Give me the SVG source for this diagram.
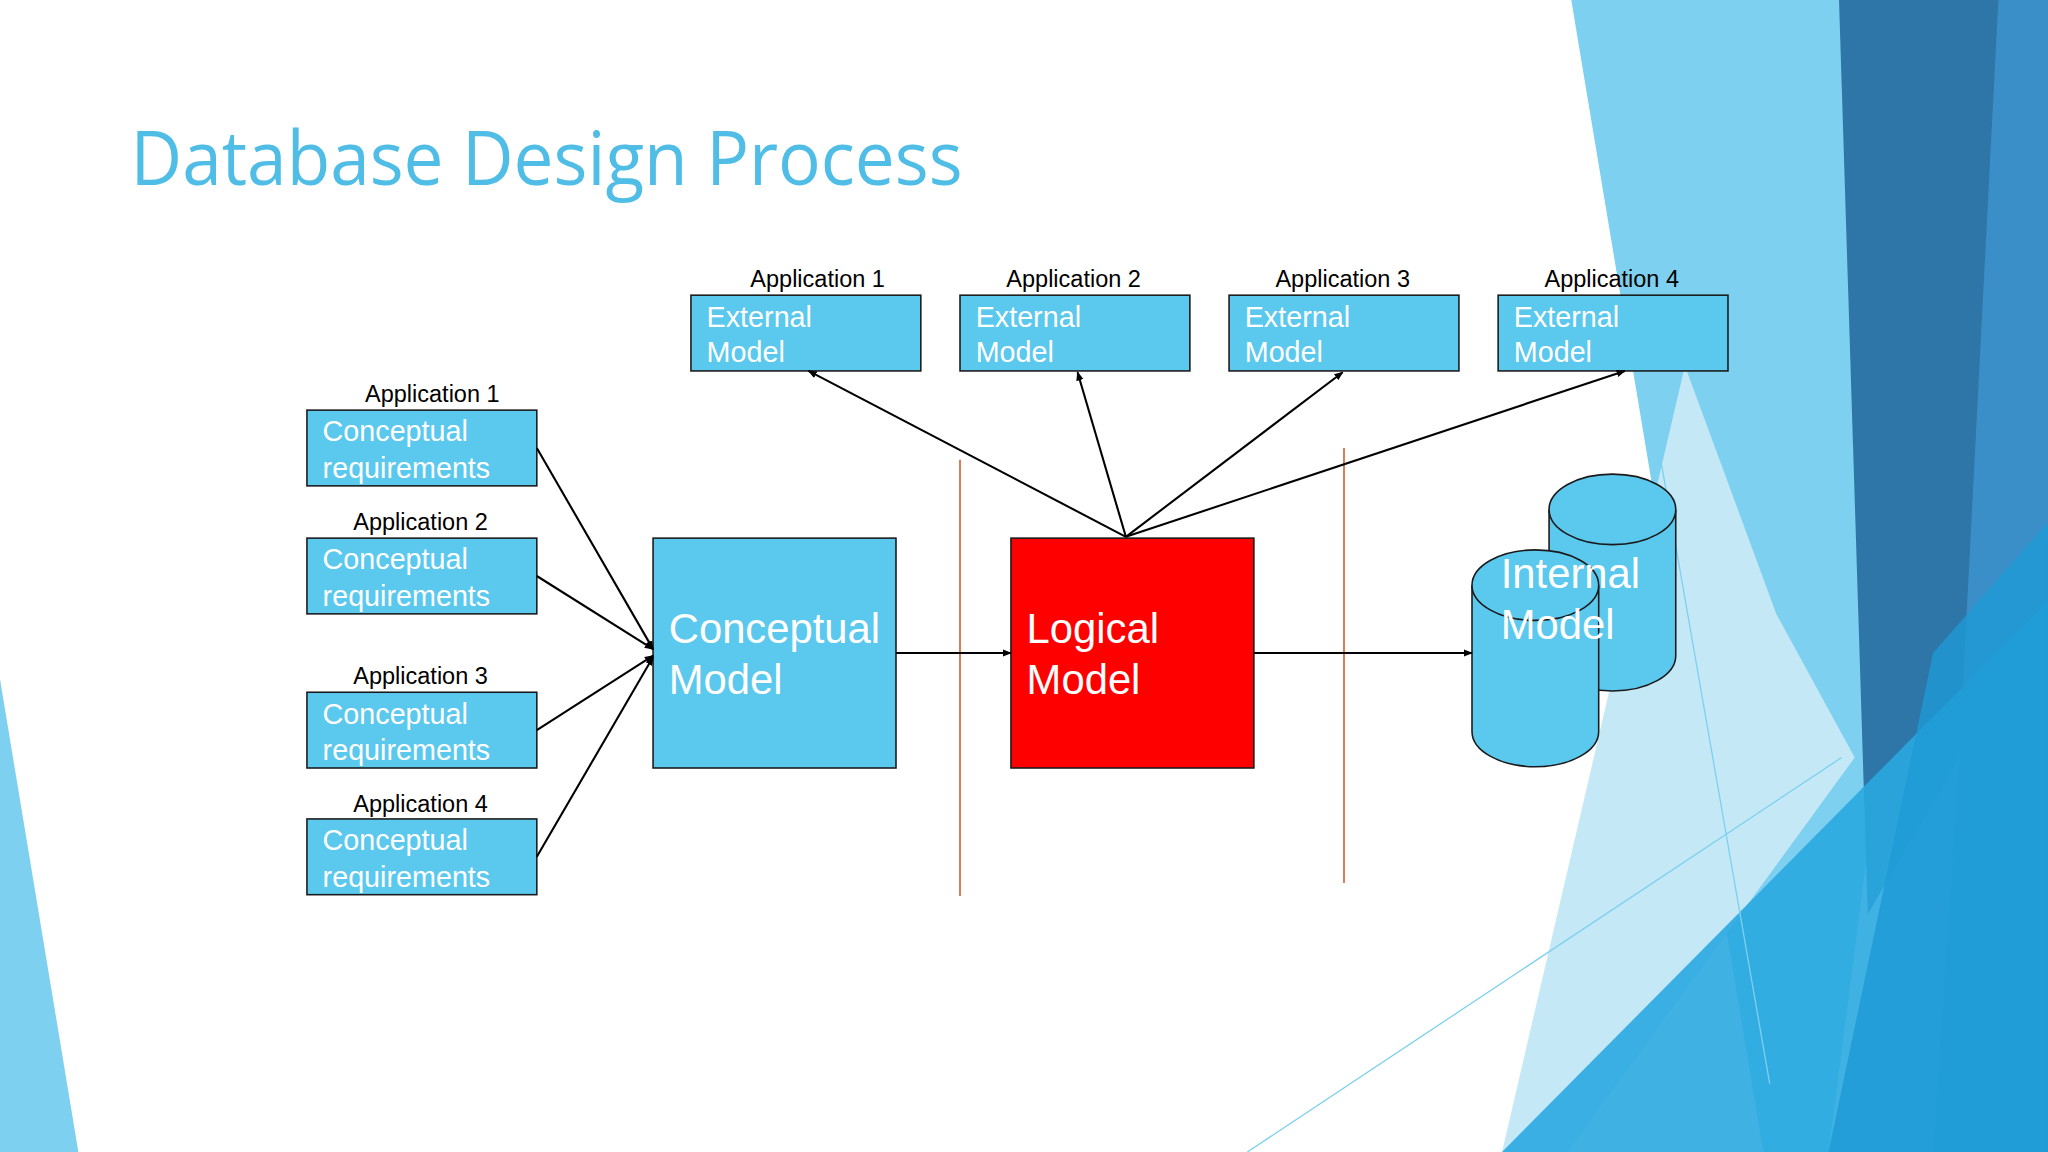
<svg xmlns="http://www.w3.org/2000/svg" width="2048" height="1152" viewBox="0 0 2048 1152">
<defs>
<style>
.box{fill:#5bc8ee;stroke:#1a1a1a;stroke-width:1.2}
.lbl{font-family:"Liberation Sans",Arial,sans-serif;font-size:18px;fill:#000}
.wt{font-family:"Liberation Sans",Arial,sans-serif;font-size:22px;fill:#fff}
.big{font-family:"Liberation Sans",Arial,sans-serif;font-size:32px;fill:#fff}
.con{stroke:#000;stroke-width:1.6;fill:none;marker-end:url(#ah)}
.div{stroke:#d9643a;stroke-width:1.3}
</style>
<marker id="ah" viewBox="0 0 10 10" refX="9" refY="5" markerWidth="7" markerHeight="7" orient="auto-start-reverse" markerUnits="userSpaceOnUse"><path d="M0,1 L10,5 L0,9 z" fill="#000"/></marker>
</defs>
<rect width="2048" height="1152" fill="#fff"/>
<g transform="scale(1.30612)">
<g id="background">
<polygon points="1203,0 1410,0 1460,420 1400,882 1350,882" fill="#7dd0ef"/>
<polygon points="1290,280 1360,470 1420,580 1200,882 1150,882" fill="#c5e8f7"/>
<polygon points="1408,0 1540,0 1500,580 1430,700" fill="#2e75a8"/>
<polygon points="1530,0 1568,0 1568,882 1480,882 1500,580" fill="#3a8fc8"/>
<polygon points="1150,882 1568,460 1568,882" fill="#2aa8e0" opacity="0.9"/>
<polygon points="1400,882 1480,500 1568,400 1568,882" fill="#1e9ad4" opacity="0.8"/>
<polygon points="0,520 60,882 0,882" fill="#7dd0ef"/>
<line x1="1210" y1="0" x2="1355" y2="830" stroke="#7dd0ef" stroke-width="1"/>
<line x1="955" y1="882" x2="1410" y2="580" stroke="#7dd0ef" stroke-width="1"/>
</g>
<text id="title" x="100" y="142" font-family="Open Sans, DejaVu Sans, sans-serif" font-size="58" fill="#4fbde6" textLength="637" lengthAdjust="spacingAndGlyphs">Database Design Process</text>
<g id="dividers"><line class="div" x1="735" y1="352" x2="735" y2="686"/><line class="div" x1="1029" y1="343" x2="1029" y2="676"/></g>
<g id="req1"><text class="lbl" x="331" y="308" text-anchor="middle">Application 1</text><rect class="box" x="235" y="314" width="176" height="58"/><text class="wt" x="247" y="338">Conceptual</text><text class="wt" x="247" y="366">requirements</text></g>
<g id="req2"><text class="lbl" x="322" y="406" text-anchor="middle">Application 2</text><rect class="box" x="235" y="412" width="176" height="58"/><text class="wt" x="247" y="436">Conceptual</text><text class="wt" x="247" y="464">requirements</text></g>
<g id="req3"><text class="lbl" x="322" y="524" text-anchor="middle">Application 3</text><rect class="box" x="235" y="530" width="176" height="58"/><text class="wt" x="247" y="554">Conceptual</text><text class="wt" x="247" y="582">requirements</text></g>
<g id="req4"><text class="lbl" x="322" y="622" text-anchor="middle">Application 4</text><rect class="box" x="235" y="627" width="176" height="58"/><text class="wt" x="247" y="651">Conceptual</text><text class="wt" x="247" y="679">requirements</text></g>
<g id="conceptual"><rect class="box" x="500" y="412" width="186" height="176"/><text class="big" x="512" y="492">Conceptual</text><text class="big" x="512" y="531">Model</text></g>
<g id="logical"><rect x="774" y="412" width="186" height="176" fill="#ff0000" stroke="#1a1a1a" stroke-width="1.2"/><text class="big" x="786" y="492">Logical</text><text class="big" x="786" y="531">Model</text></g>
<g id="ext1"><text class="lbl" x="626" y="220" text-anchor="middle">Application 1</text><rect class="box" x="529" y="226" width="176" height="58"/><text class="wt" x="541" y="250">External</text><text class="wt" x="541" y="277">Model</text></g>
<g id="ext2"><text class="lbl" x="822" y="220" text-anchor="middle">Application 2</text><rect class="box" x="735" y="226" width="176" height="58"/><text class="wt" x="747" y="250">External</text><text class="wt" x="747" y="277">Model</text></g>
<g id="ext3"><text class="lbl" x="1028" y="220" text-anchor="middle">Application 3</text><rect class="box" x="941" y="226" width="176" height="58"/><text class="wt" x="953" y="250">External</text><text class="wt" x="953" y="277">Model</text></g>
<g id="ext4"><text class="lbl" x="1234" y="220" text-anchor="middle">Application 4</text><rect class="box" x="1147" y="226" width="176" height="58"/><text class="wt" x="1159" y="250">External</text><text class="wt" x="1159" y="277">Model</text></g>
<g id="internal">
<path class="box" d="M1186,390 L1186,502 A48.5,27 0 0 0 1283,502 L1283,390"/>
<ellipse class="box" cx="1234.5" cy="390" rx="48.5" ry="27"/>
<path class="box" d="M1127,448 L1127,560 A48.5,27 0 0 0 1224,560 L1224,448"/>
<ellipse class="box" cx="1175.5" cy="448" rx="48.5" ry="27"/>
<text class="big" x="1149" y="450">Internal</text><text class="big" x="1149" y="489">Model</text>
</g>
<g id="connectors">
<line class="con" x1="411" y1="343" x2="500" y2="497"/>
<line class="con" x1="411" y1="441" x2="500" y2="497"/>
<line class="con" x1="411" y1="559" x2="500" y2="502"/>
<line class="con" x1="411" y1="656" x2="500" y2="503"/>
<line class="con" x1="686" y1="500" x2="774" y2="500"/>
<line class="con" x1="960" y1="500" x2="1127" y2="500"/>
<line class="con" x1="862" y1="411" x2="619" y2="284"/>
<line class="con" x1="862" y1="411" x2="825" y2="285"/>
<line class="con" x1="862" y1="411" x2="1028" y2="285"/>
<line class="con" x1="862" y1="411" x2="1244" y2="284"/>
</g>
</g>
</svg>
